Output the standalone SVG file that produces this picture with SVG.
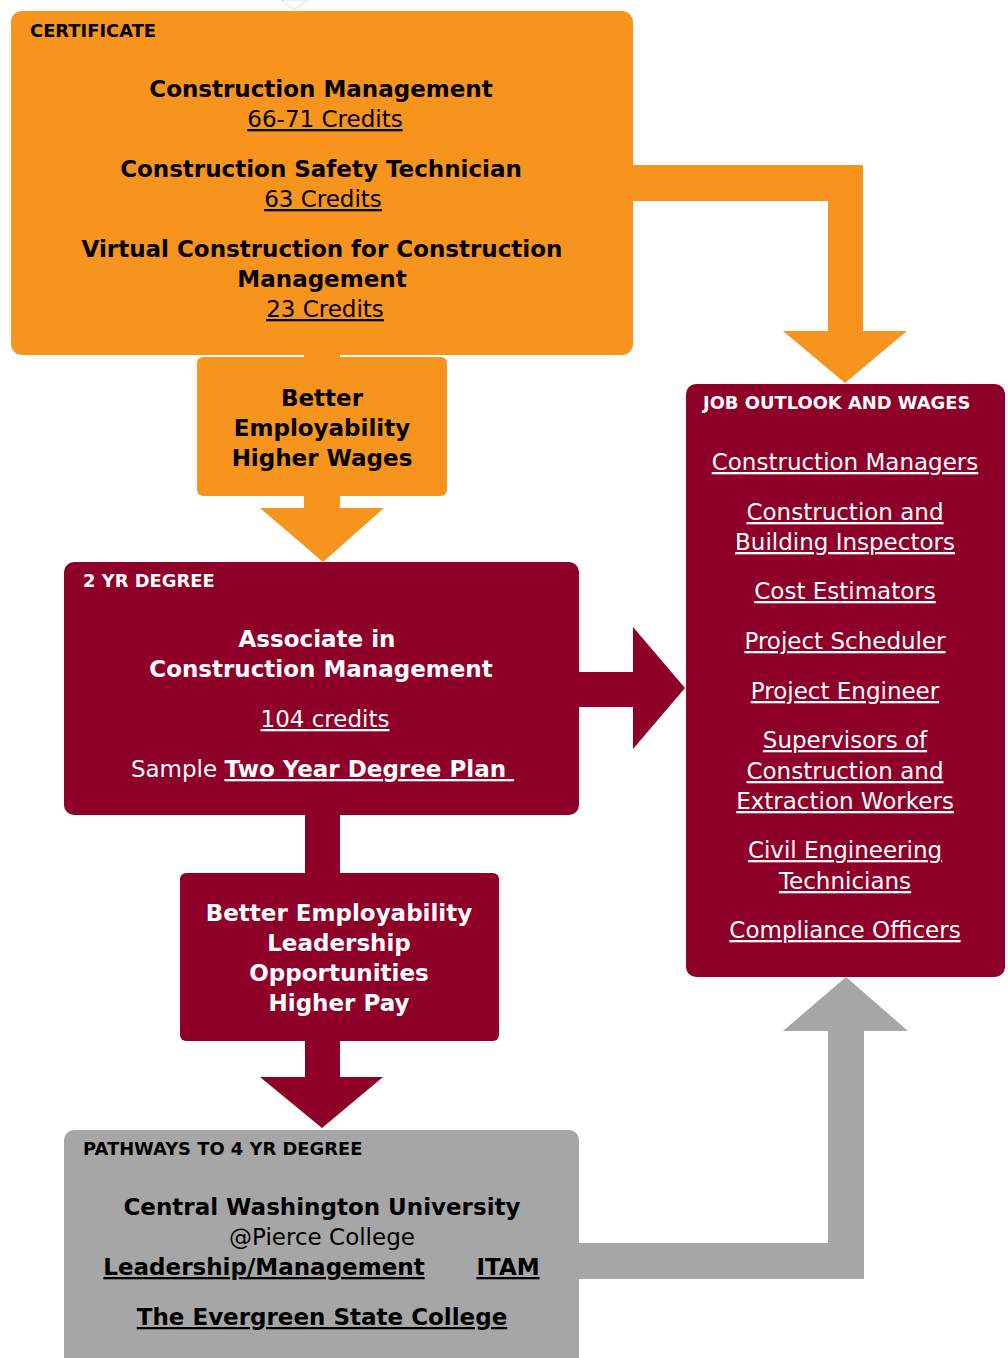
<svg xmlns="http://www.w3.org/2000/svg" width="1008" height="1358" viewBox="0 0 1008 1358">
<style>
text{font-family:"DejaVu Sans","Verdana",sans-serif;font-size:23px;text-anchor:middle}
.lab{font-size:17.9px;font-weight:bold;text-anchor:start}
.b{font-weight:bold}
.u{text-decoration:underline}
.w{fill:#fff}
.k{fill:#000}
.or{fill:#F7941E}
.mr{fill:#8F0028}
.gr{fill:#A6A6A6}
</style>
<rect width="1008" height="1358" fill="#fff"/>
<polygon points="281,0 294,10 308,0" fill="#fff" stroke="#ddd" stroke-width="1"/>
<g id="connectors">
<polygon class="or" points="620,165 863,165 863,331 907,331 845,383 783,331 828,331 828,201 620,201"/>
<rect class="or" x="304" y="340" width="36" height="30"/>
<polygon class="or" points="304,480 340,480 340,508 384,508 323,562 260,508 304,508"/>
<polygon class="mr" points="570,672 633,672 633,627 685,688 633,749 633,707 570,707"/>
<rect class="mr" x="305" y="800" width="35" height="90"/>
<polygon class="mr" points="305,1030 340,1030 340,1077 383,1077 322,1128 260,1077 305,1077"/>
<polygon class="gr" points="570,1243 828,1243 828,1031 783,1031 846,977 908,1031 864,1031 864,1279 570,1279"/>
</g>
<g id="certificate">
<rect class="or" x="11" y="11" width="622" height="344" rx="11"/>
<text class="lab k" x="30" y="37">CERTIFICATE</text>
<text class="b k" x="321" y="97">Construction Management</text>
<text class="u k" x="325" y="127">66-71 Credits</text>
<text class="b k" x="321" y="177">Construction Safety Technician</text>
<text class="u k" x="323" y="207">63 Credits</text>
<text class="b k" x="322" y="257">Virtual Construction for Construction</text>
<text class="b k" x="322" y="287">Management</text>
<text class="u k" x="325" y="317">23 Credits</text>
</g>
<g id="benefit1">
<rect class="or" x="197" y="357" width="250" height="139" rx="6"/>
<text class="b k" x="322" y="406">Better</text>
<text class="b k" x="322" y="436">Employability</text>
<text class="b k" x="322" y="466">Higher Wages</text>
</g>
<g id="degree">
<rect class="mr" x="64" y="562" width="515" height="253" rx="10"/>
<text class="lab w" x="83" y="587">2 YR DEGREE</text>
<text class="b w" x="317" y="647">Associate in</text>
<text class="b w" x="321" y="677">Construction Management</text>
<text class="u w" x="325" y="727">104 credits</text>
<text class="w" x="322.5" y="777" xml:space="preserve">Sample <tspan class="b u">Two Year Degree Plan </tspan></text>
</g>
<g id="benefit2">
<rect class="mr" x="180" y="873" width="319" height="168" rx="6"/>
<text class="b w" x="339" y="921">Better Employability</text>
<text class="b w" x="339" y="951">Leadership</text>
<text class="b w" x="339" y="981">Opportunities</text>
<text class="b w" x="339" y="1011">Higher Pay</text>
</g>
<g id="jobs">
<rect class="mr" x="686" y="384" width="319" height="593" rx="10"/>
<text class="lab w" x="703" y="409">JOB OUTLOOK AND WAGES</text>
<text class="u w" x="845" y="470">Construction Managers</text>
<text class="u w" x="845" y="520">Construction and</text>
<text class="u w" x="845" y="550">Building Inspectors</text>
<text class="u w" x="845" y="599">Cost Estimators</text>
<text class="u w" x="845" y="649">Project Scheduler</text>
<text class="u w" x="845" y="699">Project Engineer</text>
<text class="u w" x="845" y="748">Supervisors of</text>
<text class="u w" x="845" y="779">Construction and</text>
<text class="u w" x="845" y="809">Extraction Workers</text>
<text class="u w" x="845" y="858">Civil Engineering</text>
<text class="u w" x="845" y="889">Technicians</text>
<text class="u w" x="845" y="938">Compliance Officers</text>
</g>
<g id="pathways">
<rect class="gr" x="64" y="1130" width="515" height="245" rx="10"/>
<text class="lab k" x="83" y="1155">PATHWAYS TO 4 YR DEGREE</text>
<text class="b k" x="322" y="1215">Central Washington University</text>
<text class="k" x="322" y="1245">@Pierce College</text>
<text class="b u k" x="264" y="1275">Leadership/Management</text>
<text class="b u k" x="508" y="1275">ITAM</text>
<text class="b u k" x="322" y="1325">The Evergreen State College</text>
</g>
</svg>
